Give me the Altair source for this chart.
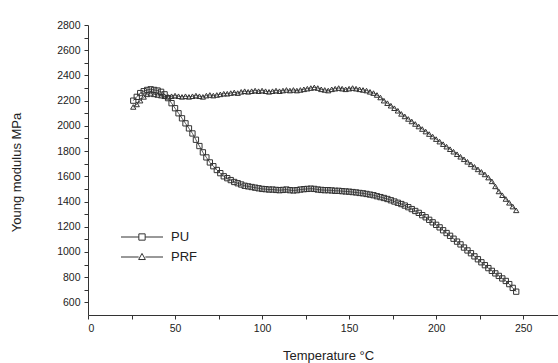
import altair as alt
import pandas as pd

# Temperature (°C) sampled every 2 degrees
temps = list(range(26, 247, 2))

pu = [2200, 2230, 2260, 2275, 2285, 2290, 2285, 2280, 2270, 2250,
      2220, 2180, 2140, 2100, 2060, 2020, 1980, 1940, 1890, 1840,
      1790, 1750, 1710, 1680, 1650, 1625, 1600, 1585, 1570, 1555,
      1545, 1535, 1525, 1520, 1515, 1510, 1505, 1500, 1498, 1495,
      1495, 1492, 1490, 1492, 1495, 1490, 1488, 1490, 1495, 1498,
      1500, 1502, 1500, 1495, 1492, 1490, 1490, 1488, 1485, 1485,
      1482, 1480, 1478, 1475, 1472, 1468, 1465, 1460, 1455, 1450,
      1442, 1435, 1428, 1420, 1410, 1400, 1390, 1380, 1368, 1355,
      1340, 1325, 1310, 1292, 1275, 1255, 1235, 1215, 1195, 1172,
      1150, 1128, 1105, 1082, 1060, 1035, 1012, 990, 965, 942,
      918, 895, 872, 850, 830, 810, 790, 770, 745, 715,
      685]

prf = [2150, 2170, 2200, 2230, 2250, 2255, 2250, 2245, 2240, 2235,
       2230, 2235, 2240, 2235, 2230, 2235, 2230, 2235, 2240, 2235,
       2230, 2240, 2245, 2240, 2245, 2250, 2255, 2255, 2260, 2265,
       2260, 2270, 2275, 2270, 2275, 2280, 2275, 2280, 2275, 2270,
       2275, 2280, 2275, 2280, 2285, 2280, 2285, 2280, 2285, 2290,
       2295, 2300, 2305, 2300, 2290, 2285, 2280, 2290, 2295, 2300,
       2295, 2290, 2295, 2300, 2295, 2290, 2285, 2280, 2270, 2260,
       2245, 2225, 2200, 2180, 2160, 2140, 2120, 2095, 2075, 2055,
       2035, 2015, 1995, 1975, 1955, 1935, 1915, 1895, 1875, 1855,
       1835, 1815, 1795, 1775, 1755, 1735, 1715, 1695, 1675, 1655,
       1635, 1615, 1590, 1560, 1520, 1480, 1450, 1420, 1390, 1360,
       1330]

series_names = ["PU", "PRF"]
x_ticks = list(range(0, 251, 25))
y_ticks = list(range(600, 2801, 100))

df = pd.DataFrame({
    "T": temps + temps,
    "E": pu + prf,
    "series": ["PU"] * len(temps) + ["PRF"] * len(temps),
})

FONT = "Liberation Sans"
INK = "#333333"

x_enc = alt.X(
    "T:Q",
    scale=alt.Scale(domain=[0, 270], nice=False, zero=False),
    axis=alt.Axis(
        values=x_ticks,
        format="d",
        labelExpr="datum.value % 50 == 0 ? datum.label : ''",
        title="Temperature °C",
        titleX=240, titleY=40, titleAlign="center", titleBaseline="middle",
    ),
)
y_enc = alt.Y(
    "E:Q",
    scale=alt.Scale(domain=[500, 2800], nice=False, zero=False),
    axis=alt.Axis(
        values=y_ticks,
        format="d",
        labelExpr="datum.value % 200 == 0 ? datum.label : ''",
        title="Young modulus MPa",
        titleX=-72, titleY=147, titleAlign="center", titleBaseline="middle",
    ),
)

base = alt.Chart(df)

lines = base.mark_line(color=INK, strokeWidth=0.8).encode(
    x=x_enc, y=y_enc, detail="series:N"
)

points = base.mark_point(filled=False, color=INK, strokeWidth=1, size=28, opacity=1).encode(
    x=x_enc, y=y_enc,
    shape=alt.Shape("series:N",
                    scale=alt.Scale(domain=series_names, range=["square", "triangle-up"]),
                    legend=None),
)

# legend glyphs: a line with the marker in its middle (path spans -2..2 units)
pu_path = "M-2,0H-0.3M0.3,0H2M-0.3,-0.3H0.3V0.3H-0.3Z"
prf_path = "M-2,0H-0.32M0.32,0H2M0,-0.34L0.32,0.24H-0.32Z"

legend_layer = base.transform_filter("false").mark_point(filled=False, color=INK).encode(
    x=x_enc, y=y_enc,
    shape=alt.Shape("series:N",
                    scale=alt.Scale(domain=series_names, range=[pu_path, prf_path]),
                    legend=alt.Legend(
                        title=None, orient="none", legendX=43, legendY=201,
                        symbolSize=441, symbolStrokeWidth=1, symbolStrokeColor=INK,
                        symbolFillColor="transparent", symbolOpacity=1,
                        labelFont=FONT, labelFontSize=13, labelColor="#222222",
                        labelOffset=18, rowPadding=2, padding=0,
                    )),
)

chart = alt.layer(lines, points, legend_layer).resolve_scale(
    shape="independent"
).properties(
    width=470, height=290,
    padding={"left": 88, "top": 25, "right": 0, "bottom": 48},
    autosize=alt.AutoSizeParams(type="none"),
    background="white",
).configure_view(stroke=None).configure_axis(
    grid=False,
    domainColor=INK, tickColor=INK, domainWidth=1, tickWidth=1,
    tickSize=4, labelPadding=4,
    labelFont=FONT, labelFontSize=10.5, labelColor="#222222",
    titleFont=FONT, titleFontSize=13, titleFontWeight="normal", titleColor="#222222",
)

chart.save("out.html", embed_options={"renderer": "svg", "actions": False})
